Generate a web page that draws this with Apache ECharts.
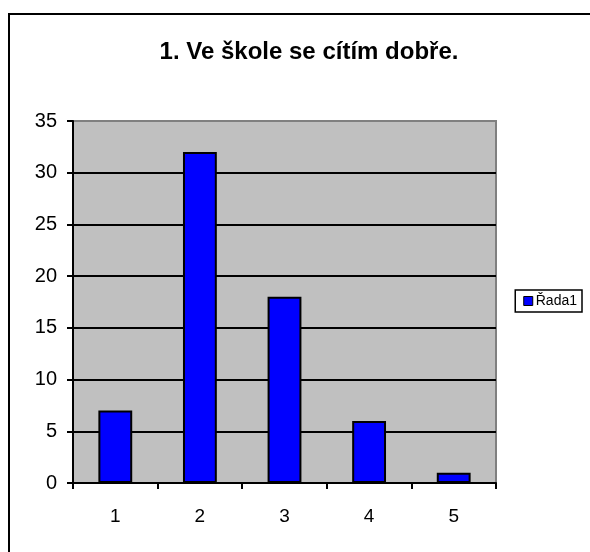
<!DOCTYPE html>
<html>
<head>
<meta charset="utf-8">
<script src="https://cdn.jsdelivr.net/npm/echarts@6/dist/echarts.min.js"></script>
<style>
  html, body { margin: 0; padding: 0; background: #fff; }
  #chart { width: 590px; height: 552px; }
</style>
</head>
<body>
<div id="chart"></div>
<script>
const categories = ['1', '2', '3', '4', '5'];
const values = [7, 32, 18, 6, 1];
const seriesName = 'Řada1';
const titleText = '1. Ve škole se cítím dobře.';

const chart = echarts.init(document.getElementById('chart'));
const font = 'Arial, "Liberation Sans", sans-serif';

chart.setOption({
  animation: false,
  backgroundColor: '#fff',
  title: {
    text: titleText,
    left: 304,
    top: 35,
    textAlign: 'center',
    textStyle: { fontFamily: font, fontSize: 24, fontWeight: 'bold', color: '#000' }
  },
  legend: {
    right: 8,
    top: 290,
    orient: 'vertical',
    itemWidth: 9,
    itemHeight: 9,
    itemGap: 4,
    padding: [4, 5, 4, 8],
    borderColor: '#000',
    borderWidth: 1.5,
    icon: 'rect',
    textStyle: { fontFamily: font, fontSize: 14, color: '#000', padding: [0, 0, 0, -2] },
    data: [{ name: seriesName, itemStyle: { borderColor: '#000', borderWidth: 1 } }]
  },
  grid: {
    left: 73,
    top: 121,
    width: 423,
    height: 362,
    show: true,
    backgroundColor: '#C0C0C0',
    borderColor: '#808080',
    borderWidth: 2
  },
  xAxis: {
    type: 'category',
    data: categories,
    axisLine: { lineStyle: { color: '#000', width: 2 } },
    axisTick: { show: true, length: 6, lineStyle: { color: '#000', width: 2 } },
    axisLabel: { fontFamily: font, fontSize: 19, color: '#000', margin: 24 }
  },
  yAxis: {
    type: 'value',
    min: 0,
    max: 35,
    interval: 5,
    axisLine: { show: true, lineStyle: { color: '#000', width: 2 } },
    axisTick: { show: true, length: 6, lineStyle: { color: '#000', width: 2 } },
    axisLabel: { fontFamily: font, fontSize: 20, color: '#000', margin: 16 },
    splitLine: { showMaxLine: false, lineStyle: { color: '#000', width: 2 } }
  },
  series: [{
    name: seriesName,
    type: 'bar',
    data: values,
    barWidth: '40%',
    itemStyle: { color: '#0000FF', borderColor: '#000', borderWidth: 2 }
  }],
  graphic: [{
    type: 'rect',
    shape: { x: 9, y: 14, width: 700, height: 700 },
    style: { fill: 'none', stroke: '#000', lineWidth: 2 },
    silent: true
  }]
});
</script>
</body>
</html>
